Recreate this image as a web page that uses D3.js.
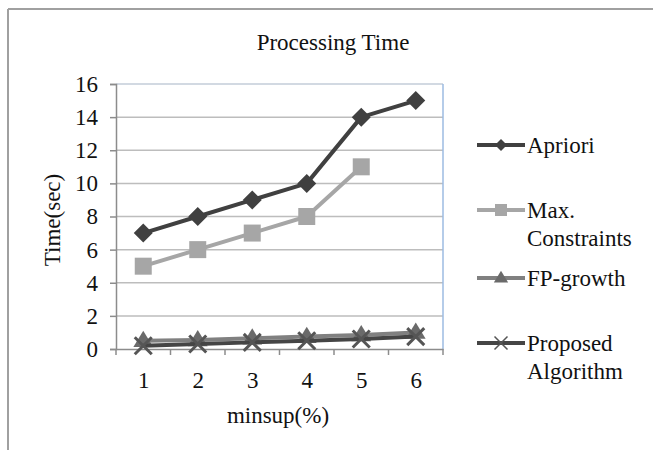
<!DOCTYPE html>
<html>
<head>
<meta charset="utf-8">
<script src="https://cdn.jsdelivr.net/npm/d3@7"></script>
<style>
  body { margin: 0; background: #fff; }
  text { font-family: "Liberation Serif", "Times New Roman", serif; fill: #111; }
</style>
</head>
<body>
<svg id="chart" width="653" height="450"></svg>
<script>
const categories = [1, 2, 3, 4, 5, 6]
const yTicks = [0, 2, 4, 6, 8, 10, 12, 14, 16]
const apriori = [7, 8, 9, 10, 14, 15]
const maxConstraints = [5, 6, 7, 8, 11]
const fpGrowth = [0.5, 0.55, 0.65, 0.75, 0.85, 1.0]
const proposed = [0.2, 0.3, 0.4, 0.5, 0.6, 0.75]

const series = [
  {name: ['Apriori'], values: apriori, line: '#404040', fill: '#404040', marker: 'diamond', ly: 145},
  {name: ['Max.', 'Constraints'], values: maxConstraints, line: '#a6a6a6', fill: '#a6a6a6', marker: 'square', ly: 210},
  {name: ['FP-growth'], values: fpGrowth, line: '#808080', fill: '#6a6a6a', marker: 'triangle', ly: 278},
  {name: ['Proposed', 'Algorithm'], values: proposed, line: '#454545', fill: '#555', marker: 'cross', ly: 343}
]

const svg = d3.select('#chart')
const plot = {left: 116, top: 84, right: 443, bottom: 349}
const fontSize = '23px'

// outer frame (top and left only visible)
svg.append('line').attr('x1', 8).attr('x2', 653).attr('y1', 9).attr('y2', 9)
  .attr('stroke', '#a0a0a0').attr('stroke-width', 2)
svg.append('line').attr('x1', 8).attr('x2', 8).attr('y1', 9).attr('y2', 450)
  .attr('stroke', '#a0a0a0').attr('stroke-width', 2)

const x = d3.scalePoint().domain(categories).range([plot.left, plot.right]).padding(0.5)
const y = d3.scaleLinear().domain([0, 16]).range([plot.bottom, plot.top])
const step = x.step()

// gridlines
svg.append('g')
  .selectAll('line')
  .data(yTicks.slice(1, -1))
  .enter()
  .append('line')
  .attr('x1', plot.left).attr('x2', plot.right)
  .attr('y1', d => y(d)).attr('y2', d => y(d))
  .attr('stroke', '#bdbdbd').attr('stroke-width', 1.5)

// plot border top / right
svg.append('line').attr('x1', plot.left).attr('x2', plot.right)
  .attr('y1', y(16)).attr('y2', y(16)).attr('stroke', '#c3ccd9').attr('stroke-width', 1.5)
svg.append('line').attr('x1', plot.right).attr('x2', plot.right)
  .attr('y1', y(16)).attr('y2', y(0)).attr('stroke', '#9dbbe2').attr('stroke-width', 1.5)

// y axis
const yAxis = svg.append('g')
  .attr('transform', `translate(${plot.left},0)`)
  .call(d3.axisLeft(y).tickValues(yTicks).tickSize(6).tickPadding(12))
yAxis.select('.domain').attr('stroke', '#8c8c8c').attr('stroke-width', 1.5)
yAxis.selectAll('.tick line').attr('stroke', '#8c8c8c').attr('stroke-width', 1.5)
yAxis.selectAll('text').style('font-size', fontSize).attr('fill', '#111')

// x axis
const xAxis = svg.append('g')
  .attr('transform', `translate(0,${plot.bottom})`)
  .call(d3.axisBottom(x).tickSize(0).tickPadding(23))
xAxis.select('.domain').attr('stroke', '#8c8c8c').attr('stroke-width', 1.5)
xAxis.selectAll('text').style('font-size', fontSize).attr('fill', '#111')
xAxis.selectAll('.boundary')
  .data(d3.range(categories.length + 1))
  .enter()
  .append('line')
  .attr('x1', i => plot.left + i * step).attr('x2', i => plot.left + i * step)
  .attr('y1', 0).attr('y2', 6)
  .attr('stroke', '#8c8c8c').attr('stroke-width', 1.5)

// titles
svg.append('text').attr('x', 333).attr('y', 50).attr('text-anchor', 'middle')
  .style('font-size', fontSize).text('Processing Time')
svg.append('text').attr('x', 278).attr('y', 423).attr('text-anchor', 'middle')
  .style('font-size', fontSize).text('minsup(%)')
svg.append('text').attr('transform', 'translate(60,220) rotate(-90)').attr('text-anchor', 'middle')
  .style('font-size', fontSize).text('Time(sec)')

function markerPath(type, r) {
  if (type === 'diamond') return `M0,${-r}L${r},0L0,${r}L${-r},0Z`
  if (type === 'square') return `M${-r},${-r}H${r}V${r}H${-r}Z`
  if (type === 'triangle') return `M0,${-r * 1.1}L${r * 1.1},${r * 0.7}L${-r * 1.1},${r * 0.7}Z`
  return `M${-r},${-r}L${r},${r}M${r},${-r}L${-r},${r}`
}

function drawMarker(g, s, r) {
  const p = g.append('path').attr('d', markerPath(s.marker, r))
  if (s.marker === 'cross') {
    p.attr('fill', 'none').attr('stroke', s.fill).attr('stroke-width', r > 6.5 ? 3 : 1.5)
  } else {
    p.attr('fill', s.fill)
  }
  return p
}

const markerSize = {diamond: 9.5, square: 8.5, triangle: 9, cross: 8.5}
const legendSize = {diamond: 6, square: 6, triangle: 6.5, cross: 6.5}

const line = d3.line().x((d, i) => x(categories[i])).y(d => y(d))

series.forEach(s => {
  svg.append('path')
    .datum(s.values)
    .attr('d', line)
    .attr('fill', 'none')
    .attr('stroke', s.line)
    .attr('stroke-width', 4)
    .attr('stroke-linejoin', 'round')
  s.values.forEach((v, i) => {
    const g = svg.append('g').attr('transform', `translate(${x(categories[i])},${y(v)})`)
    drawMarker(g, s, markerSize[s.marker])
  })
})

// legend
series.forEach(s => {
  const g = svg.append('g')
  g.append('line').attr('x1', 477).attr('x2', 525).attr('y1', s.ly).attr('y2', s.ly)
    .attr('stroke', s.line).attr('stroke-width', 4)
  const m = g.append('g').attr('transform', `translate(501,${s.ly})`)
  drawMarker(m, s, legendSize[s.marker])
  s.name.forEach((t, k) => {
    g.append('text').attr('x', 527).attr('y', s.ly + 8 + k * 28)
      .style('font-size', fontSize).text(t)
  })
})
</script>
</body>
</html>
